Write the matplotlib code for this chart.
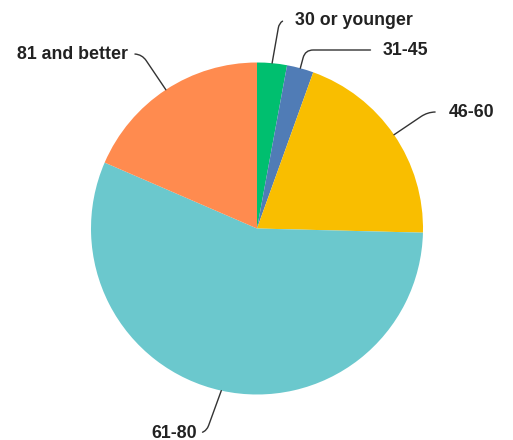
import matplotlib
matplotlib.use("Agg")
import matplotlib.pyplot as plt
import numpy as np

W, H = 513, 440

labels = ["30 or younger", "31-45", "46-60", "61-80", "81 and better"]
values = [2.9, 2.6, 19.9, 56.1, 18.5]
colors = ["#00BF6F", "#507CB6", "#F9BE00", "#6BC8CD", "#FF8B4F"]

# label placement (pixels from top-left), alignment, gap and angle of the leader at the pie
label_pos = [(295, 20), (383, 50), (449, 112), (197, 433), (128, 54)]
label_ha = ["left", "left", "left", "right", "right"]
label_gap = [9, 9, 10, 4, 5]
leader_angle = [80, 75, 34, 70, 124]

center = (257, H - 228.5)
radius = 166

plt.rcParams["font.family"] = ["Liberation Sans", "DejaVu Sans"]

fig = plt.figure(figsize=(W / 100, H / 100), dpi=100)
ax = fig.add_axes([0, 0, 1, 1])

wedges, _ = ax.pie(values, colors=colors, startangle=90, counterclock=False,
                   center=center, radius=radius, frame=True)

ax.set_xlim(0, W)
ax.set_ylim(0, H)
ax.set_aspect("equal")
ax.set_axis_off()

for w, lab, pos, ha, gap, ang in zip(wedges, labels, label_pos, label_ha,
                                      label_gap, leader_angle):
    mid = np.deg2rad((w.theta1 + w.theta2) / 2)
    xy = (center[0] + radius * np.cos(mid), center[1] + radius * np.sin(mid))
    relx = 0 if ha == "left" else 1
    ax.annotate(lab, xy=xy, xytext=(pos[0], H - pos[1]),
                ha=ha, va="center", fontsize=12.8, fontweight="bold",
                color="#222222", annotation_clip=False,
                arrowprops=dict(arrowstyle="-", color="#333333", lw=1.0,
                                relpos=(relx, 0.5), patchA=None,
                                shrinkA=gap, shrinkB=0,
                                connectionstyle=f"angle,angleA=0,angleB={ang},rad=8"))

fig.savefig("out.png", dpi=100)
